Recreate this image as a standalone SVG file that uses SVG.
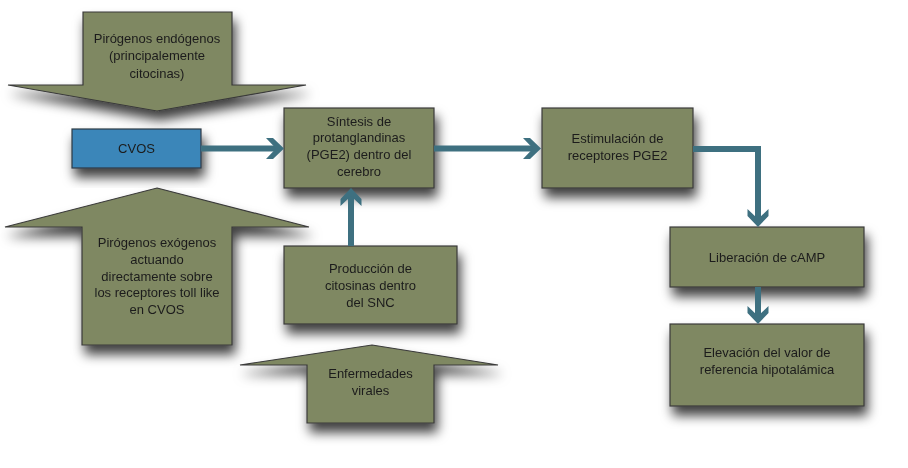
<svg xmlns="http://www.w3.org/2000/svg" width="908" height="468" viewBox="0 0 908 468">
<style>
.node{fill:#7f8862;stroke:#3a3a3a;stroke-width:1.2}
.blue{fill:#3b86b9;stroke:#2f3a44;stroke-width:1.2}
.lbl{font-family:"Liberation Sans",Arial,sans-serif;font-size:13px;fill:#1c1c1c;text-anchor:middle}
.conn{fill:none;stroke:#3e7080;stroke-width:6;marker-end:url(#chev)}
</style>
<defs>
<filter id="sh" x="-30%" y="-30%" width="160%" height="180%">
<feDropShadow dx="3" dy="9" stdDeviation="6" flood-color="#000" flood-opacity="0.75"/>
</filter>
<marker id="chev" markerUnits="userSpaceOnUse" markerWidth="30" markerHeight="30" refX="0" refY="0" orient="auto" overflow="visible">
<path d="M-12,-10.5 L-5,-10.5 L6,0 L-5,10.5 L-12,10.5 L-2,0 Z" fill="#3e7080"/>
</marker>
</defs>
<rect width="908" height="468" fill="#ffffff"/>

<g id="endogenos" filter="url(#sh)">
<path class="node" d="M83,12 H232 V85 H306 L157,111 L8,85 H83 Z"/>
<text class="lbl" x="157" y="42.5">Pirógenos endógenos</text>
<text class="lbl" x="157" y="60">(principalemente</text>
<text class="lbl" x="157" y="77.5">citocinas)</text>
</g>

<g id="cvos" filter="url(#sh)">
<rect class="blue" x="72" y="129" width="129" height="39"/>
<text class="lbl" x="136.5" y="153">CVOS</text>
</g>

<g id="exogenos" filter="url(#sh)">
<path class="node" d="M157,188 L309,227 H232 V345 H82 V227 H5 Z"/>
<text class="lbl" x="157" y="246.5">Pirógenos exógenos</text>
<text class="lbl" x="157" y="263.5">actuando</text>
<text class="lbl" x="157" y="280.5">directamente sobre</text>
<text class="lbl" x="157" y="297">los receptores toll like</text>
<text class="lbl" x="157" y="313.5">en CVOS</text>
</g>

<g id="sintesis" filter="url(#sh)">
<rect class="node" x="284" y="108" width="150" height="80"/>
<text class="lbl" x="359" y="125.5">Síntesis de</text>
<text class="lbl" x="359" y="142">protanglandinas</text>
<text class="lbl" x="359" y="158.5">(PGE2) dentro del</text>
<text class="lbl" x="359" y="175.5">cerebro</text>
</g>

<g id="produccion" filter="url(#sh)">
<rect class="node" x="284" y="246" width="173" height="78"/>
<text class="lbl" x="370.5" y="272.5">Producción de</text>
<text class="lbl" x="370.5" y="289.5">citosinas dentro</text>
<text class="lbl" x="370.5" y="306.5">del SNC</text>
</g>

<g id="virales" filter="url(#sh)">
<path class="node" d="M372,345 L498,365 H434 V423 H307 V365 H240 Z"/>
<text class="lbl" x="370.5" y="377.5">Enfermedades</text>
<text class="lbl" x="370.5" y="394.5">virales</text>
</g>

<g id="estimulacion" filter="url(#sh)">
<rect class="node" x="542" y="108" width="151" height="80"/>
<text class="lbl" x="617.5" y="142.5">Estimulación de</text>
<text class="lbl" x="617.5" y="159.5">receptores PGE2</text>
</g>

<g id="liberacion" filter="url(#sh)">
<rect class="node" x="670" y="227" width="194" height="60"/>
<text class="lbl" x="767" y="261.5">Liberación de cAMP</text>
</g>

<g id="elevacion" filter="url(#sh)">
<rect class="node" x="670" y="324" width="194" height="82"/>
<text class="lbl" x="767" y="356.5">Elevación del valor de</text>
<text class="lbl" x="767" y="373.5">referencia hipotalámica</text>
</g>

<g id="connectors">
<path class="conn" d="M201,148.5 H278"/>
<path class="conn" d="M434,148.5 H535"/>
<path class="conn" d="M693,149 H758 V221"/>
<path class="conn" d="M758,287 V318"/>
<path class="conn" d="M351,246 V194"/>
</g>
</svg>
